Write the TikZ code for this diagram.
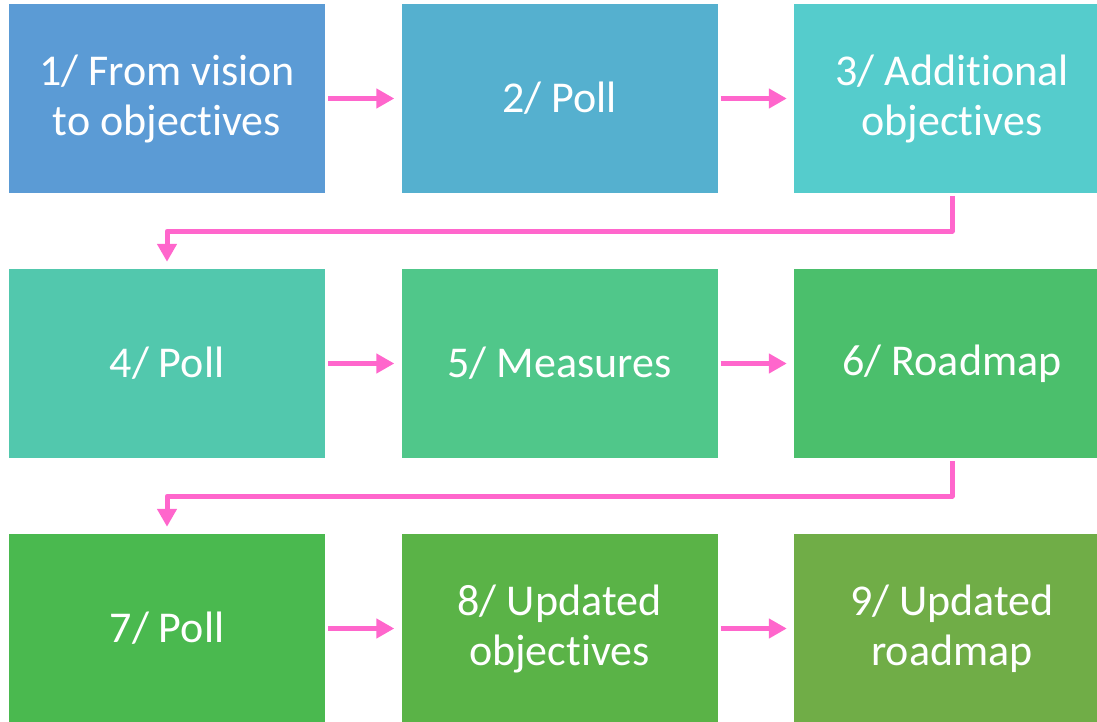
\documentclass[tikz,border=0pt]{standalone}
\usepackage{fontspec}
\setmainfont[Ligatures=NoCommon]{Carlito}
\usetikzlibrary{arrows.meta}
\definecolor{cA}{HTML}{5B9BD5}
\definecolor{cB}{HTML}{55B0CF}
\definecolor{cC}{HTML}{55CCCC}
\definecolor{cD}{HTML}{52C8AD}
\definecolor{cE}{HTML}{50C78A}
\definecolor{cF}{HTML}{4BBF6C}
\definecolor{cG}{HTML}{4AB94F}
\definecolor{cH}{HTML}{5AB347}
\definecolor{cI}{HTML}{70AD47}
\definecolor{pinkarrow}{HTML}{FF66CC}
\begin{document}
\begin{tikzpicture}[x=1pt, y=-1pt, line join=round,
	box/.style={minimum width=316pt, minimum height=189pt, inner sep=0pt, text=white, align=center, font=\fontsize{44}{50}\selectfont},
	link/.style={draw=pinkarrow, line width=5pt, -{Triangle[length=18pt,width=19pt]}, shorten <=3pt, shorten >=7pt}]
		\useasboundingbox (0,0) rectangle (1097,722);
		\clip (0,0) rectangle (1097,722);
		% row 1
		\node[box, fill=cA] (b1) at (167,98.5) {1/ From vision\\to objectives};
		\node[box, fill=cB] (b2) at (559.5,98.5) {2/ Poll};
		\node[box, fill=cC] (b3) at (952,98.5) {3/ Additional\\objectives};
		% row 2
		\node[box, fill=cD] (b4) at (167,363.5) {4/ Poll};
		\node[box, fill=cE] (b5) at (559.5,363.5) {5/ Measures};
		\node[box, fill=cF] (b6) at (952,363.5) {6/ Roadmap};
		% row 3
		\node[box, fill=cG] (b7) at (167,628.5) {7/ Poll};
		\node[box, fill=cH] (b8) at (559.5,628.5) {8/ Updated\\objectives};
		\node[box, fill=cI] (b9) at (952,628.5) {9/ Updated\\roadmap};
		% connectors
		\draw[link] (b1) -- (b2);
		\draw[link] (b2) -- (b3);
		\draw[link] (b4) -- (b5);
		\draw[link] (b5) -- (b6);
		\draw[link] (b7) -- (b8);
		\draw[link] (b8) -- (b9);
		\draw[link] (b3.south) -- ++(0,38) -| (b4.north);
		\draw[link] (b6.south) -- ++(0,38) -| (b7.north);
	\end{tikzpicture}
\end{document}
